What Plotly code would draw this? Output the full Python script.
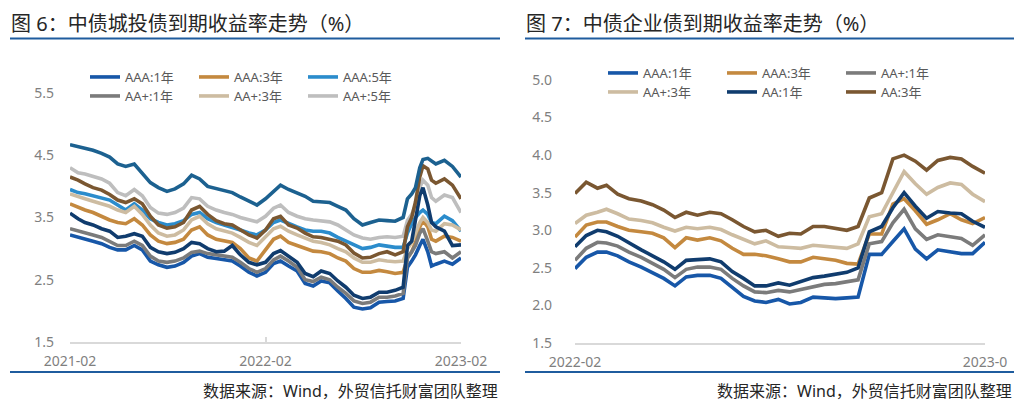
import plotly.graph_objects as go

# page body has an 8px default margin, so the figure is sized to fit the 1025x411 window
OFF = 8
W, H = 1025 - OFF, 411 - OFF

# ---------------- Data: 图6 中债城投债 (left) ----------------
left_dates = [f"{2021 + (m // 12)}-{m % 12 + 1:02d}-{d:02d}" for m in range(1, 22) for d in (1, 16)] + [
    "2022-10-24", "2022-11-01", "2022-11-08", "2022-11-16", "2022-11-22", "2022-12-01",
    "2022-12-08", "2022-12-16", "2023-01-01", "2023-01-16", "2023-02-01"]

cty_aaa_1y = [3.22, 3.18, 3.15, 3.12, 3.08, 3.02, 2.98, 2.98, 3.05, 2.98, 2.80, 2.74, 2.70, 2.72, 2.78, 2.88, 2.92,
              2.86, 2.84, 2.82, 2.80, 2.72, 2.62, 2.56, 2.62, 2.76, 2.80, 2.72, 2.64, 2.44, 2.40, 2.48, 2.45, 2.32,
              2.20, 2.06, 2.03, 2.05, 2.14, 2.15, 2.16, 2.20,
              2.70, 2.80, 2.90, 3.05, 3.15, 2.95, 2.72, 2.75, 2.80, 2.75, 2.85]
cty_aaa_3y = [3.72, 3.66, 3.62, 3.58, 3.52, 3.46, 3.42, 3.40, 3.48, 3.38, 3.22, 3.12, 3.08, 3.10, 3.15, 3.30, 3.35,
              3.22, 3.15, 3.12, 3.10, 3.00, 2.85, 2.80, 2.98, 3.15, 3.20, 3.10, 3.05, 3.00, 2.96, 2.95, 2.92, 2.85,
              2.80, 2.68, 2.62, 2.62, 2.65, 2.63, 2.60, 2.62,
              2.85, 2.95, 3.10, 3.35, 3.45, 3.35, 3.15, 3.12, 3.20, 3.18, 3.12]
cty_aaa_5y = [3.95, 3.90, 3.88, 3.85, 3.82, 3.78, 3.70, 3.62, 3.72, 3.62, 3.48, 3.42, 3.38, 3.40, 3.45, 3.55, 3.58,
              3.48, 3.42, 3.38, 3.35, 3.30, 3.25, 3.22, 3.30, 3.42, 3.46, 3.40, 3.35, 3.30, 3.28, 3.28, 3.25, 3.18,
              3.12, 3.06, 3.00, 3.02, 3.06, 3.04, 3.02, 3.02,
              3.25, 3.40, 3.50, 3.58, 3.62, 3.55, 3.42, 3.40, 3.52, 3.45, 3.28]
cty_aap_1y = [3.32, 3.28, 3.25, 3.22, 3.18, 3.12, 3.05, 3.05, 3.12, 3.05, 2.88, 2.80, 2.78, 2.80, 2.85, 2.94, 2.96,
              2.92, 2.90, 2.88, 2.86, 2.78, 2.68, 2.62, 2.68, 2.82, 2.88, 2.80, 2.70, 2.50, 2.47, 2.54, 2.50, 2.38,
              2.28, 2.16, 2.12, 2.14, 2.22, 2.22, 2.24, 2.28,
              2.85, 2.95, 3.05, 3.25, 3.32, 3.12, 2.95, 2.92, 2.95, 2.85, 2.95]
cty_aap_3y = [3.88, 3.83, 3.80, 3.76, 3.72, 3.68, 3.62, 3.58, 3.68, 3.55, 3.38, 3.25, 3.20, 3.22, 3.30, 3.46, 3.52,
              3.40, 3.32, 3.28, 3.25, 3.18, 3.10, 3.05, 3.18, 3.32, 3.36, 3.28, 3.22, 3.17, 3.12, 3.10, 3.06, 3.00,
              2.95, 2.85, 2.78, 2.78, 2.82, 2.80, 2.79, 2.80,
              3.00, 3.10, 3.25, 3.42, 3.50, 3.42, 3.30, 3.28, 3.40, 3.38, 3.30]
cty_aap_5y = [4.30, 4.22, 4.20, 4.16, 4.12, 4.05, 3.90, 3.85, 3.95, 3.85, 3.66, 3.57, 3.55, 3.58, 3.65, 3.82, 3.80,
              3.68, 3.62, 3.58, 3.55, 3.50, 3.46, 3.43, 3.52, 3.65, 3.70, 3.58, 3.52, 3.48, 3.46, 3.45, 3.43, 3.38,
              3.30, 3.22, 3.17, 3.15, 3.18, 3.19, 3.18, 3.20,
              3.45, 3.55, 3.70, 3.98, 4.10, 4.02, 3.82, 3.76, 3.86, 3.82, 3.58]
cty_aa_1y = [3.57, 3.48, 3.42, 3.38, 3.32, 3.28, 3.18, 3.20, 3.24, 3.20, 3.02, 2.95, 2.92, 2.94, 3.00, 3.10, 3.08,
             3.00, 2.95, 2.96, 3.05, 2.90, 2.78, 2.74, 2.78, 2.92, 2.97, 2.88, 2.78, 2.60, 2.55, 2.64, 2.60, 2.48,
             2.38, 2.25, 2.20, 2.22, 2.30, 2.30, 2.33, 2.38,
             3.05, 3.12, 3.45, 3.85, 3.98, 3.70, 3.42, 3.35, 3.28, 3.05, 3.06]
cty_aa_3y = [4.15, 4.10, 4.04, 3.98, 3.94, 3.87, 3.78, 3.74, 3.80, 3.72, 3.52, 3.38, 3.33, 3.35, 3.42, 3.62, 3.68,
             3.55, 3.45, 3.40, 3.38, 3.30, 3.22, 3.17, 3.30, 3.48, 3.52, 3.38, 3.33, 3.25, 3.19, 3.18, 3.15, 3.12,
             3.06, 2.93, 2.85, 2.86, 2.92, 2.95, 2.90, 2.95,
             3.35, 3.50, 3.75, 4.15, 4.33, 4.28, 4.10, 4.05, 4.12, 4.02, 3.80]
cty_aa_5y = [4.67, 4.64, 4.62, 4.58, 4.53, 4.47, 4.36, 4.32, 4.36, 4.20, 4.06, 3.98, 3.92, 3.96, 4.04, 4.18, 4.12,
             4.00, 3.97, 3.93, 3.90, 3.83, 3.77, 3.70, 3.80, 3.92, 4.02, 3.95, 3.90, 3.84, 3.76, 3.75, 3.74, 3.68,
             3.62, 3.48, 3.38, 3.42, 3.46, 3.45, 3.44, 3.50,
             3.80, 3.88, 3.98, 4.30, 4.43, 4.45, 4.40, 4.36, 4.42, 4.32, 4.15]

# ---------------- Data: 图7 中债企业债 (right) ----------------
right_dates = [f"{2022 + (m // 12)}-{m % 12 + 1:02d}-{d:02d}" for m in range(1, 13) for d in (1, 11, 21)] + ["2023-02-01"]

ent_aaa_1y = [2.49, 2.64, 2.71, 2.71, 2.66, 2.58, 2.51, 2.44, 2.36, 2.26, 2.38, 2.40, 2.40, 2.36, 2.24, 2.12, 2.06,
              2.04, 2.08, 2.02, 2.04, 2.11, 2.10, 2.09, 2.10, 2.11, 2.68, 2.68, 2.85, 3.02, 2.75, 2.62, 2.74, 2.71,
              2.69, 2.69, 2.84]
ent_aaa_3y = [2.91, 3.07, 3.11, 3.11, 3.05, 3.00, 2.98, 2.96, 2.90, 2.77, 2.90, 2.87, 2.90, 2.86, 2.76, 2.68, 2.68,
              2.66, 2.62, 2.58, 2.58, 2.64, 2.62, 2.60, 2.56, 2.55, 2.95, 2.95, 3.35, 3.42, 3.26, 3.08, 3.14, 3.22,
              3.14, 3.09, 3.17]
ent_aap_1y = [2.60, 2.76, 2.84, 2.83, 2.79, 2.71, 2.64, 2.56, 2.48, 2.37, 2.48, 2.51, 2.51, 2.48, 2.36, 2.26, 2.18,
              2.17, 2.20, 2.18, 2.21, 2.25, 2.28, 2.29, 2.31, 2.34, 2.82, 2.85, 3.10, 3.28, 3.02, 2.88, 2.94, 2.92,
              2.89, 2.80, 2.94]
ent_aap_3y = [3.09, 3.20, 3.24, 3.28, 3.22, 3.15, 3.13, 3.10, 3.04, 2.99, 3.04, 3.02, 3.04, 3.01, 2.94, 2.88, 2.82,
              2.86, 2.78, 2.77, 2.76, 2.80, 2.79, 2.78, 2.76, 2.82, 3.18, 3.22, 3.50, 3.78, 3.62, 3.48, 3.57, 3.63,
              3.61, 3.48, 3.38]
ent_aa_1y = [2.78, 2.93, 3.00, 2.98, 2.92, 2.83, 2.74, 2.66, 2.58, 2.48, 2.60, 2.61, 2.62, 2.58, 2.45, 2.36, 2.26,
             2.26, 2.30, 2.27, 2.32, 2.37, 2.39, 2.41, 2.44, 2.50, 2.98, 3.05, 3.30, 3.50, 3.32, 3.16, 3.25, 3.23,
             3.22, 3.12, 3.04]
ent_aa_3y = [3.49, 3.64, 3.56, 3.60, 3.48, 3.42, 3.39, 3.34, 3.27, 3.17, 3.24, 3.20, 3.24, 3.22, 3.14, 3.05, 2.98,
             3.00, 2.92, 2.96, 2.95, 3.05, 3.05, 3.02, 3.00, 3.05, 3.43, 3.50, 3.95, 4.00, 3.92, 3.80, 3.93, 3.97,
             3.95, 3.85, 3.76]

left_yticks = [1.5, 2.5, 3.5, 4.5, 5.5]
right_yticks = [1.5, 2.0, 2.5, 3.0, 3.5, 4.0, 4.5, 5.0]
left_xticks = ["2021-02-01", "2022-02-01", "2023-02-01"]
left_xlabels = ["2021-02", "2022-02", "2023-02"]
right_xticks = ["2022-02-01", "2023-02-01"]
right_xlabels = ["2022-02", "2023-0"]

# ---------------- Styling ----------------
C_BLUE = "#1757A8"
C_ORANGE = "#C4893F"
C_LBLUE = "#2B8CCC"
C_GRAY = "#7B7B7B"
C_BEIGE = "#CDBCA1"
C_LGRAY = "#BEBEBE"
C_NAVY = "#103C6E"
C_BROWN = "#7A5731"
C_TEAL = "#1C6190"
FONT = "Noto Sans, Noto Sans CJK SC, sans-serif"
TXT = "#7F7F7F"
LW = 3.6


def fx(px):
    # window pixel -> paper fraction
    return (px - OFF) / W


def fy(py):
    return 1 - (py - OFF) / H


fig = go.Figure()

left_series = [
    ("AAA:1年", cty_aaa_1y, C_BLUE, "legend", True),
    ("AAA:3年", cty_aaa_3y, C_ORANGE, "legend", True),
    ("AAA:5年", cty_aaa_5y, C_LBLUE, "legend", True),
    ("AA+:1年", cty_aap_1y, C_GRAY, "legend2", True),
    ("AA+:3年", cty_aap_3y, C_BEIGE, "legend2", True),
    ("AA+:5年", cty_aap_5y, C_LGRAY, "legend2", True),
    ("AA:1年", cty_aa_1y, C_NAVY, "legend", False),
    ("AA:3年", cty_aa_3y, C_BROWN, "legend", False),
    ("AA:5年", cty_aa_5y, C_TEAL, "legend", False),
]
for name, vals, col, lg, show in left_series:
    fig.add_trace(go.Scatter(x=left_dates, y=vals, name=name, mode="lines",
                             line=dict(color=col, width=LW), xaxis="x", yaxis="y",
                             legend=lg, showlegend=show))

right_series = [
    ("AAA:1年", ent_aaa_1y, C_BLUE, "legend3"),
    ("AAA:3年", ent_aaa_3y, C_ORANGE, "legend3"),
    ("AA+:1年", ent_aap_1y, C_GRAY, "legend3"),
    ("AA+:3年", ent_aap_3y, C_BEIGE, "legend4"),
    ("AA:1年", ent_aa_1y, C_NAVY, "legend4"),
    ("AA:3年", ent_aa_3y, C_BROWN, "legend4"),
]
for name, vals, col, lg in right_series:
    fig.add_trace(go.Scatter(x=right_dates, y=vals, name=name, mode="lines",
                             line=dict(color=col, width=LW), xaxis="x2", yaxis="y2",
                             legend=lg, showlegend=True))

xcommon = dict(type="date", showgrid=False, zeroline=False, showline=True, linecolor="#D9D9D9",
               linewidth=1.5, ticks="inside", ticklen=5, tickcolor="#D9D9D9", tickwidth=1.5,
               tickfont=dict(family=FONT, size=14, color=TXT), fixedrange=True, automargin=False,
               ticklabelstandoff=5)
ycommon = dict(showgrid=False, zeroline=False, showline=False, ticks="",
               tickfont=dict(family=FONT, size=14, color=TXT), fixedrange=True, automargin=False)

leg_common = dict(orientation="h", xanchor="left", yanchor="middle", bgcolor="rgba(0,0,0,0)",
                  font=dict(family=FONT, size=13, color="#595959"), itemwidth=30,
                  entrywidthmode="pixels", tracegroupgap=0, borderwidth=0)

fig.update_layout(
    width=W, height=H, margin=dict(l=0, r=0, t=0, b=0, pad=0, autoexpand=False),
    paper_bgcolor="white", plot_bgcolor="white",
    xaxis=dict(xcommon, domain=[fx(70), fx(461)], range=["2021-02-01", "2023-02-01"],
               tickvals=left_xticks, ticktext=left_xlabels, anchor="y"),
    yaxis=dict(ycommon, domain=[fy(342), fy(93)], range=[1.5, 5.5], tickvals=left_yticks,
               ticktext=[f"{v:.1f}" for v in left_yticks], anchor="x", ticklabelstandoff=15),
    xaxis2=dict(xcommon, domain=[fx(575), fx(985)], range=["2022-02-01", "2023-02-01"],
                tickvals=right_xticks, ticktext=right_xlabels, anchor="y2"),
    yaxis2=dict(ycommon, domain=[fy(343), fy(80)], range=[1.5, 5.0], tickvals=right_yticks,
                ticktext=[f"{v:.1f}" for v in right_yticks], anchor="x2", ticklabelstandoff=22),
    legend=dict(leg_common, x=fx(85), y=fy(77), entrywidth=64),
    legend2=dict(leg_common, x=fx(85), y=fy(96), entrywidth=64),
    legend3=dict(leg_common, x=fx(603), y=fy(73), entrywidth=74),
    legend4=dict(leg_common, x=fx(603), y=fy(92), entrywidth=74),
    showlegend=True,
)

# titles, rules, sources
for x0, x1, title, src_x in [(10, 500, "图 6：中债城投债到期收益率走势（%）", 500),
                             (525, 1014, "图 7：中债企业债到期收益率走势（%）", 1014)]:
    fig.add_annotation(x=fx(x0), y=fy(9), xref="paper", yref="paper", xanchor="left", yanchor="top",
                       text=title, showarrow=False, borderpad=0,
                       font=dict(family=FONT, size=20, color="#262626"))
    fig.add_shape(type="line", xref="paper", yref="paper", x0=fx(x0), x1=fx(x1), y0=fy(38.5), y1=fy(38.5),
                  line=dict(color="#1F5C9E", width=2.2))
    fig.add_shape(type="line", xref="paper", yref="paper", x0=fx(x0), x1=fx(x1), y0=fy(372), y1=fy(372),
                  line=dict(color="#1F5C9E", width=2.2))
    fig.add_annotation(x=fx(src_x), y=fy(391), xref="paper", yref="paper", xanchor="right", yanchor="middle",
                       text="数据来源：Wind，外贸信托财富团队整理", showarrow=False,
                       font=dict(family=FONT, size=16, color="#262626"))

fig.write_html("out.html")
